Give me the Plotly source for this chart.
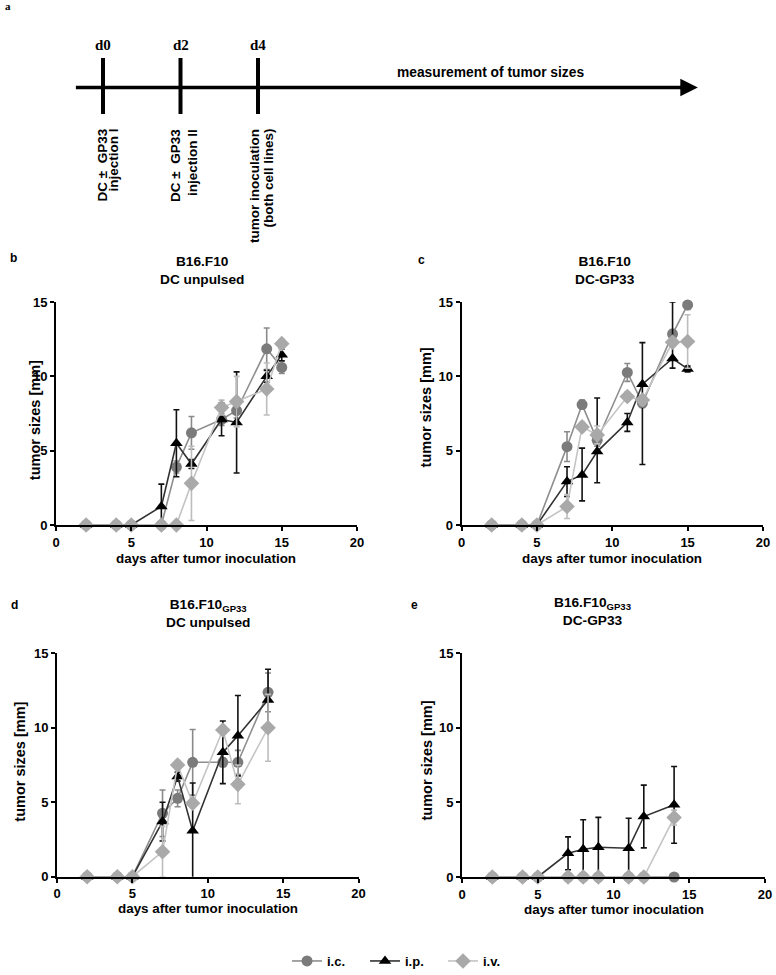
import plotly.graph_objects as go

# ---------------- data ----------------
series_names = ["i.c.", "i.p.", "i.v."]
days_bc = [2, 4, 5, 7, 8, 9, 11, 12, 14, 15]
days_de = [2, 4, 5, 7, 8, 9, 11, 12, 14]

# panel b: B16.F10, DC unpulsed
b_ic = [0, 0, 0, 0, 3.9, 6.2, 7.1, 7.7, 11.85, 10.6]
b_ic_err = [0, 0, 0, 0, 0.4, 1.1, 0.4, 0.5, 1.4, 0.4]
b_ip = [0, 0, 0, 1.25, 5.5, 4.1, 7.1, 6.9, 10.0, 11.45]
b_ip_err = [0, 0, 0, 1.5, 2.25, 0.3, 1.1, 3.4, 0.4, 0.4]
b_iv = [0, 0, 0, 0, 0, 2.8, 7.9, 8.3, 9.15, 12.2]
b_iv_err = [0, 0, 0, 0, 0, 2.5, 0.5, 1.7, 1.75, 0.3]

# panel c: B16.F10, DC-GP33
c_ic = [0, 0, 0, 5.27, 8.1, 5.7, 10.26, 8.2, 12.84, 14.8]
c_ic_err = [0, 0, 0, 1.0, 0.3, 0.4, 0.6, 0.3, 0.3, 0.3]
c_ip = [0, 0, 0, 2.92, 3.37, 4.94, 6.9, 9.47, 11.2, 10.5]
c_ip_err_plus = [0, 0, 0, 1.0, 1.8, 3.6, 0.6, 2.8, 3.8, 0.2]
c_ip_err_minus = [0, 0, 0, 1.0, 1.75, 2.1, 0.6, 5.4, 0.65, 0.2]
c_iv = [0, 0, 0, 1.24, 6.6, 6.06, 8.64, 8.4, 12.3, 12.34]
c_iv_err = [0, 0, 0, 0.8, 0.3, 0.6, 0.3, 0.3, 0.3, 1.8]

# panel d: B16.F10GP33, DC unpulsed
d_ic = [0, 0, 0, 4.26, 5.26, 7.68, 7.68, 7.68, 12.38]
d_ic_err = [0, 0, 0, 1.56, 0.56, 2.2, 0.3, 0.8, 1.3]
d_ip = [0, 0, 0, 3.7, 6.72, 3.09, 8.35, 9.47, 11.87]
d_ip_err = [0, 0, 0, 1.3, 0.3, 3.2, 2.1, 2.7, 2.06]
d_iv = [0, 0, 0, 1.68, 7.5, 4.93, 9.85, 6.2, 10.0]
d_iv_err = [0, 0, 0, 1.7, 0.3, 0.3, 0.3, 1.3, 2.25]

# panel e: B16.F10GP33, DC-GP33
e_ic = [0, 0, 0, 0, 0, 0, 0, 0, 0]
e_ic_err = [0, 0, 0, 0, 0, 0, 0, 0, 0]
e_ip = [0, 0, 0, 1.59, 1.86, 1.99, 1.93, 4.05, 4.83]
e_ip_err = [0, 0, 0, 1.1, 1.97, 2.0, 2.0, 2.1, 2.57]
e_iv = [0, 0, 0, 0, 0, 0, 0, 0, 3.98]
e_iv_err = [0, 0, 0, 0, 0, 0, 0, 0, 0.5]

x_ticks = [0, 5, 10, 15, 20]
y_ticks = [0, 5, 10, 15]

# timeline (panel a)
event_days = [0, 2, 4]
event_labels = ["d0", "d2", "d4"]
event_lines = [["DC ±  GP33", "injection I"],
               ["DC ±  GP33", "injection II"],
               ["tumor inoculation", "(both cell lines)"]]
timeline_start = -0.7
timeline_end = 15.35
measure_day = 10.0

# ---------------- style ----------------
FONT = "Liberation Sans, Arial, sans-serif"
marker_colors = ["#7b7b7b", "#000000", "#a9a9a9"]
line_colors = ["#8e8e8e", "#333333", "#c4c4c4"]
err_colors = ["#8a8a8a", "#111111", "#bdbdbd"]
symbols = ["circle", "triangle-up", "diamond"]
sizes = [11, 11, 12]

panels = [
    dict(xa="x", ya="y", days=days_bc,
         vals=[b_ic, b_ip, b_iv],
         plus=[b_ic_err, b_ip_err, b_iv_err], minus=[b_ic_err, b_ip_err, b_iv_err],
         xdom=[56 / 776, 357 / 776], ydom=[(975 - 525) / 975, (975 - 302) / 975],
         title="B16.F10<br>DC unpulsed", tx=0.485, ty=271, letter="b", lx=8, ly=258,
         ytshift=-21, ytpos=0.47, xtshift=-33),
    dict(xa="x2", ya="y2", days=days_bc,
         vals=[c_ic, c_ip, c_iv],
         plus=[c_ic_err, c_ip_err_plus, c_iv_err], minus=[c_ic_err, c_ip_err_minus, c_iv_err],
         xdom=[461.5 / 776, 763 / 776], ydom=[(975 - 525) / 975, (975 - 302) / 975],
         title="B16.F10<br>DC-GP33", tx=0.475, ty=271, letter="c", lx=416, ly=260,
         ytshift=-36, ytpos=0.525, xtshift=-33),
    dict(xa="x3", ya="y3", days=days_de,
         vals=[d_ic, d_ip, d_iv],
         plus=[d_ic_err, d_ip_err, d_iv_err], minus=[d_ic_err, d_ip_err, d_iv_err],
         xdom=[57 / 776, 358.5 / 776], ydom=[(975 - 876.7) / 975, (975 - 653.3) / 975],
         title="B16.F10<sub>GP33</sub><br>DC unpulsed", tx=0.5, ty=614, letter="d", lx=9, ly=605,
         ytshift=-37, ytpos=0.515, xtshift=-32),
    dict(xa="x4", ya="y4", days=days_de,
         vals=[e_ic, e_ip, e_iv],
         plus=[e_ic_err, e_ip_err, e_iv_err], minus=[e_ic_err, e_ip_err, e_iv_err],
         xdom=[462 / 776, 765 / 776], ydom=[(975 - 877) / 975, (975 - 653) / 975],
         title="B16.F10<sub>GP33</sub><br>DC-GP33", tx=0.43, ty=611, letter="e", lx=409, ly=605,
         ytshift=-35, ytpos=0.52, xtshift=-32),
]

fig = go.Figure()
annotations = []
layout_axes = {}

for pi, p in enumerate(panels):
    for si in range(3):
        fig.add_trace(go.Scatter(
            x=p["days"], y=p["vals"][si],
            name=series_names[si],
            legendgroup=series_names[si],
            showlegend=(pi == 0),
            mode="lines+markers",
            xaxis=p["xa"], yaxis=p["ya"],
            cliponaxis=False,
            line=dict(color=line_colors[si], width=1.6),
            marker=dict(symbol=symbols[si], size=sizes[si], color=marker_colors[si],
                        line=dict(width=0)),
            error_y=dict(type="data", symmetric=False,
                         array=p["plus"][si], arrayminus=p["minus"][si],
                         color=err_colors[si], thickness=1.6, width=3),
        ))
    xkey = "xaxis" + p["xa"][1:]
    ykey = "yaxis" + p["ya"][1:]
    layout_axes[xkey] = dict(
        domain=p["xdom"], anchor=p["ya"], range=[0, 20],
        tickvals=x_ticks, ticktext=[str(v) for v in x_ticks],
        showline=True, linecolor="black", linewidth=2,
        ticks="outside", ticklen=4, tickwidth=1.5, tickcolor="black",
        showgrid=False, zeroline=False, automargin=False,
        tickfont=dict(family=FONT, size=13, color="black", weight="bold"),
    )
    layout_axes[ykey] = dict(
        domain=p["ydom"], anchor=p["xa"], range=[0, 15],
        tickvals=y_ticks, ticktext=[str(v) for v in y_ticks],
        showline=True, linecolor="black", linewidth=2,
        ticks="outside", ticklen=4, tickwidth=1.5, tickcolor="black",
        showgrid=False, zeroline=False, automargin=False,
        tickfont=dict(family=FONT, size=13, color="black", weight="bold"),
    )
    # panel title
    annotations.append(dict(
        text="<b>" + p["title"] + "</b>", xref=p["xa"] + " domain", x=p["tx"],
        yref="paper", y=(975 - p["ty"]) / 975, xanchor="center", yanchor="middle",
        showarrow=False, font=dict(family=FONT, size=13.7, color="black"), align="center"))
    # panel letter
    annotations.append(dict(
        text="<b>" + p["letter"] + "</b>", xref="paper", x=p["lx"] / 776,
        yref="paper", y=(975 - p["ly"]) / 975, xanchor="left", yanchor="middle",
        showarrow=False, font=dict(family=FONT, size=12, color="black")))
    # axis titles
    annotations.append(dict(
        text="<b>days after tumor inoculation</b>", xref=p["xa"] + " domain", x=0.5,
        yref=p["ya"] + " domain", y=0, yshift=p["xtshift"], xanchor="center", yanchor="middle",
        showarrow=False, font=dict(family=FONT, size=13.4, color="black")))
    annotations.append(dict(
        text="<b>tumor sizes [mm]</b>", xref=p["xa"] + " domain", x=0, xshift=p["ytshift"],
        yref=p["ya"] + " domain", y=p["ytpos"], xanchor="center", yanchor="middle",
        textangle=-90, showarrow=False, font=dict(family=FONT, size=14.5, color="black")))

# ---------------- timeline (panel a) ----------------
px_per_day = 38.75
day0_px = 103.0
layout_axes["xaxis5"] = dict(domain=[0, 1], range=[-day0_px / px_per_day, (776 - day0_px) / px_per_day],
                             visible=False, anchor="y5", fixedrange=True)
layout_axes["yaxis5"] = dict(domain=[(975 - 250) / 975, 1], range=[250, 0],
                             visible=False, anchor="x5", fixedrange=True)
line_y = 87.5
tick_top, tick_bottom = 58, 114
line_offsets = [[-1, 10], [-5, 12], [-4, 10]]

fig.add_trace(go.Scatter(x=[timeline_start, timeline_end - 0.2], y=[line_y, line_y], mode="lines",
                         line=dict(color="black", width=3.5), xaxis="x5", yaxis="y5",
                         showlegend=False, hoverinfo="skip"))
annotations.append(dict(x=timeline_end, y=line_y, xref="x5", yref="y5",
                        ax=timeline_end - 0.5, ay=line_y, axref="x5", ayref="y5",
                        showarrow=True, arrowhead=2, arrowsize=1.0, arrowwidth=3.5,
                        arrowcolor="black", text=""))
shapes = []
for d, lab, lines, offs in zip(event_days, event_labels, event_lines, line_offsets):
    shapes.append(dict(type="line", xref="x5", yref="y5", x0=d, x1=d, y0=tick_top, y1=tick_bottom,
                       line=dict(color="black", width=4)))
    annotations.append(dict(text="<b>" + lab + "</b>", x=d, y=45, xref="x5", yref="y5",
                            xshift=0, showarrow=False, xanchor="center", yanchor="middle",
                            font=dict(family="Liberation Serif, Times New Roman, serif", size=15,
                                      color="black")))
    for txt, off in zip(lines, offs):
        annotations.append(dict(text="<b>" + txt + "</b>", x=d, y=127, xref="x5", yref="y5",
                                xshift=off, showarrow=False, xanchor="center", yanchor="top",
                                textangle=-90,
                                font=dict(family=FONT, size=13.5, color="black")))
annotations.append(dict(text="<b>measurement of tumor sizes</b>", x=measure_day, y=72,
                        xref="x5", yref="y5", showarrow=False, xanchor="center", yanchor="middle",
                        font=dict(family=FONT, size=13.8, color="black")))
annotations.append(dict(text="<b>a</b>", xref="paper", x=3 / 776, yref="paper", y=(975 - 6) / 975,
                        xanchor="left", yanchor="middle", showarrow=False,
                        font=dict(family="Liberation Serif, serif", size=11, color="black")))

fig.update_layout(
    width=776, height=975,
    margin=dict(l=0, r=0, t=0, b=0, pad=0, autoexpand=False),
    paper_bgcolor="white", plot_bgcolor="white",
    showlegend=True,
    legend=dict(orientation="h", x=287 / 776, xanchor="left", y=(975 - 961) / 975, yanchor="middle",
                font=dict(family=FONT, size=13, color="black", weight="bold"),
                bgcolor="rgba(0,0,0,0)", itemwidth=30, tracegroupgap=0,
                entrywidth=33, entrywidthmode="pixels"),
    annotations=annotations,
    shapes=shapes,
    **layout_axes,
)

fig.write_html("out.html",
               config={"displayModeBar": False},
               post_script="document.body.style.margin='0';document.body.style.padding='0';")
